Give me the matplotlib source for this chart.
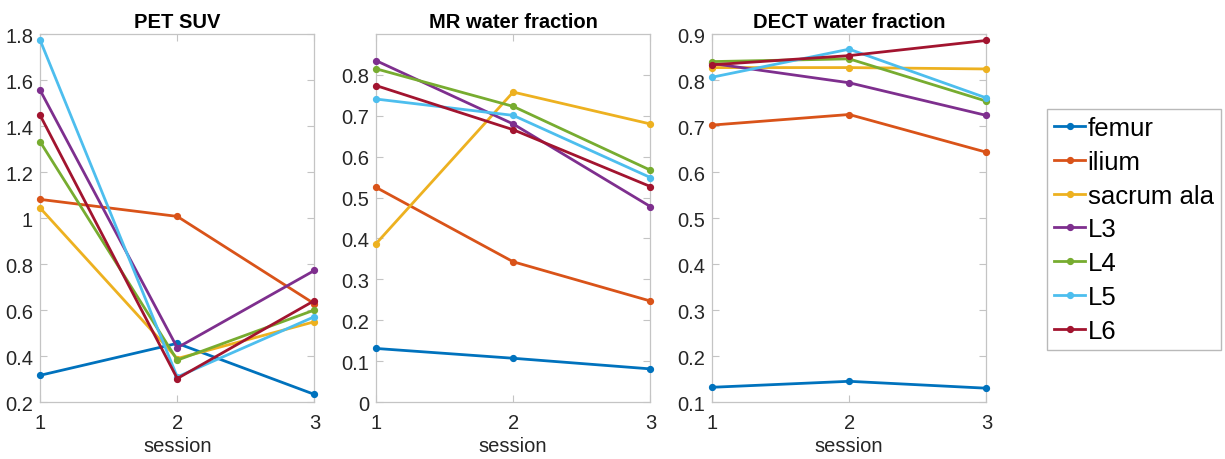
import matplotlib
matplotlib.use("Agg")
import matplotlib.pyplot as plt

plt.rcParams['font.family'] = ['Liberation Sans', 'DejaVu Sans']

sessions = [1, 2, 3]
regions = ["femur", "ilium", "sacrum ala", "L3", "L4", "L5", "L6"]
colors = ["#0072BD", "#D95319", "#EDB120", "#7E2F8E", "#77AC30", "#4DBEEE", "#A2142F"]

pet_suv = [
    [0.316, 0.455, 0.233],
    [1.081, 1.007, 0.627],
    [1.044, 0.389, 0.549],
    [1.556, 0.436, 0.772],
    [1.332, 0.382, 0.600],
    [1.774, 0.309, 0.571],
    [1.447, 0.302, 0.641],
]
mr_water = [
    [0.131, 0.107, 0.081],
    [0.525, 0.343, 0.247],
    [0.387, 0.758, 0.680],
    [0.835, 0.680, 0.478],
    [0.815, 0.723, 0.567],
    [0.741, 0.701, 0.549],
    [0.774, 0.666, 0.527],
]
dect_water = [
    [0.132, 0.145, 0.130],
    [0.702, 0.725, 0.643],
    [0.827, 0.827, 0.824],
    [0.836, 0.794, 0.723],
    [0.840, 0.846, 0.754],
    [0.806, 0.867, 0.761],
    [0.833, 0.853, 0.886],
]

titles = ["PET SUV", "MR water fraction", "DECT water fraction"]
datasets = [pet_suv, mr_water, dect_water]
ylims = [(0.2, 1.8), (0.0, 0.9), (0.1, 0.9)]
yticks = [
    [0.2, 0.4, 0.6, 0.8, 1.0, 1.2, 1.4, 1.6, 1.8],
    [0, 0.1, 0.2, 0.3, 0.4, 0.5, 0.6, 0.7, 0.8],
    [0.1, 0.2, 0.3, 0.4, 0.5, 0.6, 0.7, 0.8, 0.9],
]
ytick_labels = [
    ["0.2", "0.4", "0.6", "0.8", "1", "1.2", "1.4", "1.6", "1.8"],
    ["0", "0.1", "0.2", "0.3", "0.4", "0.5", "0.6", "0.7", "0.8"],
    ["0.1", "0.2", "0.3", "0.4", "0.5", "0.6", "0.7", "0.8", "0.9"],
]

fig = plt.figure(figsize=(12.25, 4.6), dpi=100)
lefts = [0.0327, 0.3069, 0.5812]
width = 0.2240
bottom, height = 0.1239, 0.800

edge = "#c4c4c4"
txt = "#262626"
handles = []
for i, (data, title) in enumerate(zip(datasets, titles)):
    ax = fig.add_axes([lefts[i], bottom, width, height])
    for j, (name, col) in enumerate(zip(regions, colors)):
        h, = ax.plot(sessions, data[j], color=col, lw=2.0, marker="o",
                     markersize=4.2, label=name, clip_on=False, zorder=3)
        if i == 0:
            handles.append(h)
    ax.set_xlim(1, 3)
    ax.set_ylim(*ylims[i])
    ax.set_xticks(sessions)
    ax.set_xticklabels(["1", "2", "3"])
    ax.set_yticks(yticks[i])
    ax.set_yticklabels(ytick_labels[i])
    ax.tick_params(direction="in", length=5, width=0.8, color=edge,
                   labelsize=14.5, labelcolor=txt, top=True, right=True)
    ax.tick_params(axis="x", pad=8)
    ax.tick_params(axis="y", pad=5)
    for s in ax.spines.values():
        s.set_color(edge)
        s.set_linewidth(0.9)
    ax.set_title(title, fontsize=14.5, fontweight="bold", color="black", pad=5)
    ax.set_xlabel("session", fontsize=14.5, color=txt, labelpad=3)

leg = fig.legend(handles=handles, labels=regions, loc="upper left",
                 bbox_to_anchor=(0.8547, 0.7609), fontsize=18.5,
                 frameon=True, fancybox=False, borderpad=0.28,
                 handlelength=1.2, handletextpad=0.1, labelspacing=0.38,
                 borderaxespad=0)
leg.get_frame().set_edgecolor("#a8a8a8")
leg.get_frame().set_linewidth(1.0)

fig.savefig("out.png", dpi=100)
